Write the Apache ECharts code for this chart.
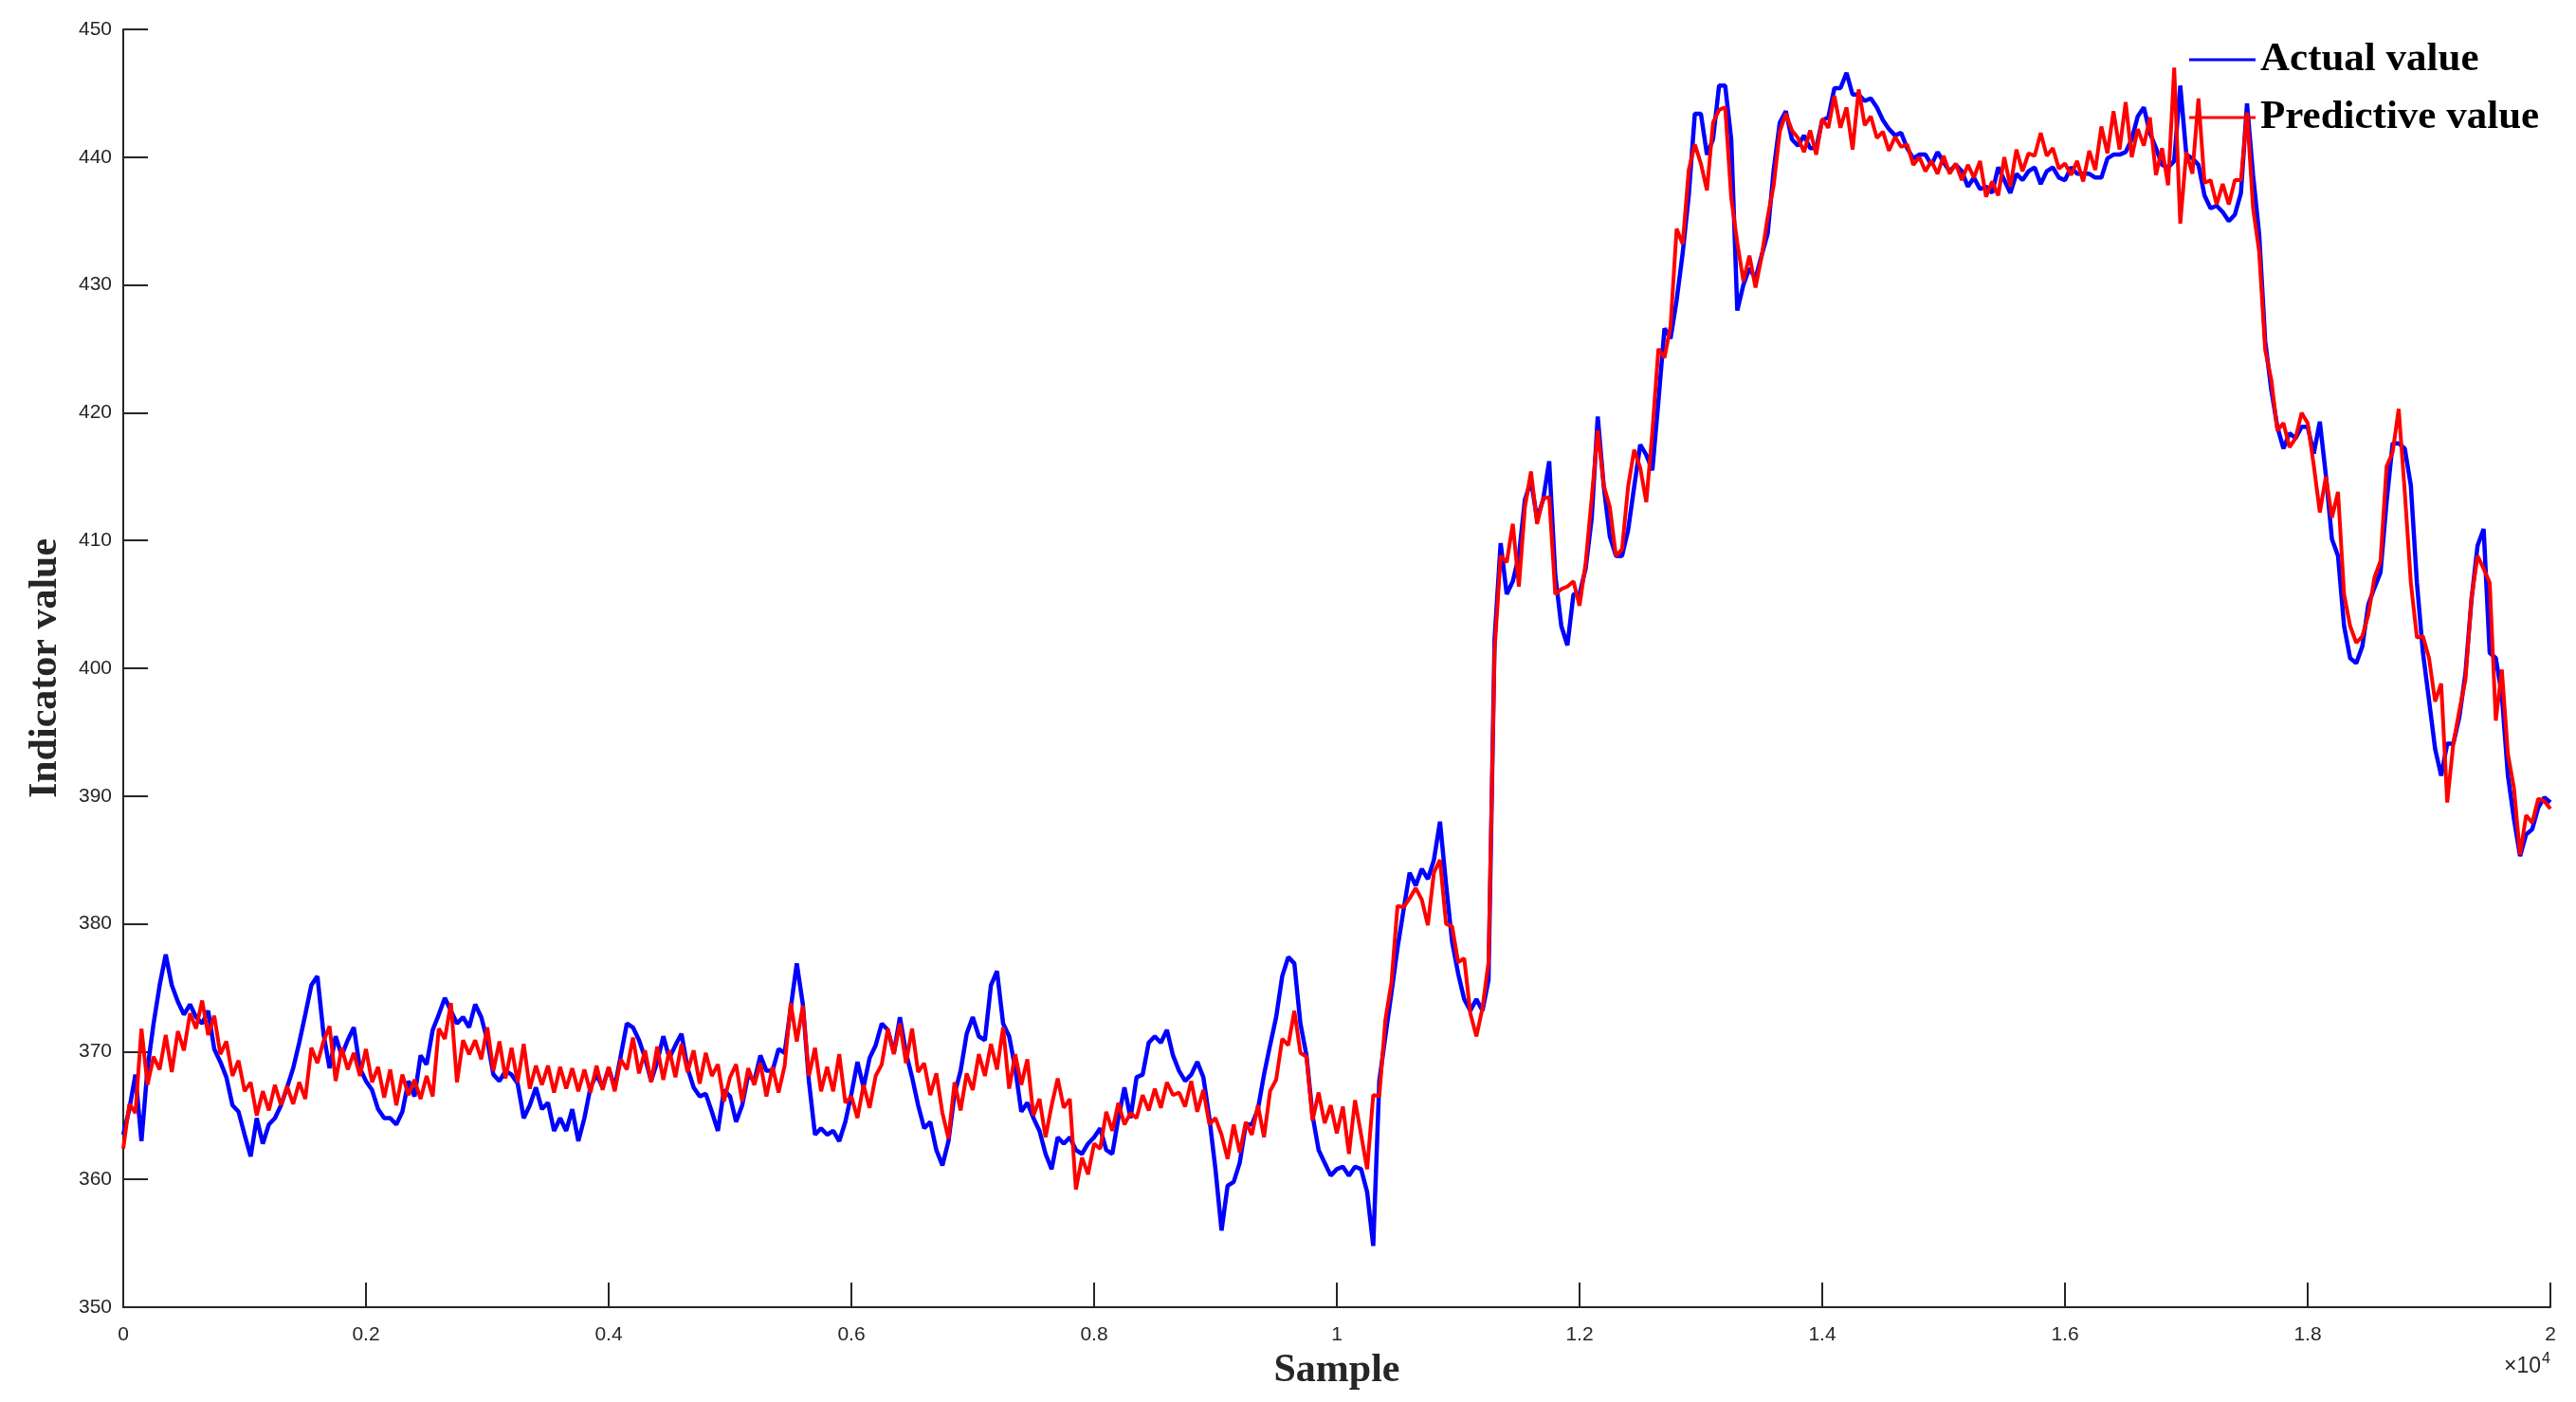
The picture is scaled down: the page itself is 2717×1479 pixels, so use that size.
<!DOCTYPE html>
<html>
<head>
<meta charset="utf-8">
<title>Actual vs predictive value</title>
<script src="https://cdn.jsdelivr.net/npm/echarts@6/dist/echarts.min.js"></script>
<style>
	html, body { margin: 0; padding: 0; background: #fff; }
	#chart { width: 2717px; height: 1479px; }
</style>
</head>
<body>
<div id="chart"></div>
<script>
// one reading every 50 samples, 0 .. 20000
const sampleStep = 50

const yTicks = [350, 360, 370, 380, 390, 400, 410, 420, 430, 440, 450]
const xTickLabels = ['0', '0.2', '0.4', '0.6', '0.8', '1', '1.2', '1.4', '1.6', '1.8', '2']

const actualValue = [
	363.5, 365.5, 368.2, 363.0, 368.7, 372.2, 375.2, 377.6, 375.2, 373.9, 372.9, 373.7, 372.7, 372.2, 373.2, 370.2, 369.2, 368.0, 365.8, 365.3, 363.5,
	361.8, 364.8, 362.8, 364.3, 364.8, 365.8, 367.2, 368.7, 370.7, 372.9, 375.2, 375.9, 371.4, 368.7, 371.2, 369.7, 370.9, 371.9, 368.7, 367.7,
	367.0, 365.5, 364.8, 364.8, 364.3, 365.3, 367.7, 366.5, 369.7, 369.0, 371.7, 372.9, 374.2, 373.2, 372.2, 372.7, 371.9, 373.7, 372.7, 370.9,
	368.2, 367.7, 368.5, 368.2, 367.5, 364.8, 365.8, 367.2, 365.5, 366.0, 363.8, 364.8, 363.8, 365.5, 363.0, 364.8, 367.2, 368.2, 367.2, 368.7,
	367.2, 369.7, 372.2, 371.9, 370.9, 369.5, 367.7, 369.2, 371.2, 369.5, 370.5, 371.4, 368.7, 367.2, 366.5, 366.7, 365.3, 363.8, 367.0, 366.5,
	364.5, 365.8, 368.2, 367.7, 369.7, 368.5, 368.5, 370.2, 369.9, 373.4, 376.9, 373.7, 367.7, 363.5, 364.0, 363.5, 363.8, 363.0, 364.5, 366.7,
	369.2, 367.2, 369.5, 370.5, 372.2, 371.7, 369.9, 372.7, 369.9, 368.0, 365.8, 364.0, 364.5, 362.3, 361.1, 363.0, 366.7, 368.5, 371.4, 372.7,
	371.2, 370.9, 375.2, 376.3, 372.2, 371.2, 368.7, 365.3, 366.0, 364.8, 363.8, 362.0, 360.8, 363.3, 362.8, 363.3, 362.3, 362.0, 362.8, 363.3,
	364.0, 362.3, 362.0, 364.8, 367.2, 364.8, 368.0, 368.2, 370.7, 371.2, 370.7, 371.7, 369.7, 368.5, 367.7, 368.2, 369.2, 368.0, 364.8, 360.8,
	356.0, 359.5, 359.8, 361.3, 364.3, 364.3, 365.5, 368.2, 370.5, 372.7, 375.9, 377.4, 376.9, 372.2, 369.7, 365.0, 362.3, 361.3, 360.3, 360.8,
	361.0, 360.3, 361.0, 360.8, 359.0, 354.8, 367.7, 371.2, 374.6, 378.1, 381.1, 384.0, 383.0, 384.3, 383.5, 385.0, 388.0, 383.1, 378.6, 376.1,
	374.1, 373.2, 374.1, 373.2, 375.6, 402.3, 409.8, 405.8, 406.8, 408.8, 413.2, 414.7, 411.7, 413.2, 416.2, 407.3, 403.3, 401.8, 405.8, 405.8,
	407.8, 411.7, 419.7, 414.2, 410.3, 408.8, 408.8, 410.8, 414.2, 417.5, 416.7, 415.5, 420.9, 426.6, 425.8, 428.8, 432.5, 437.0, 443.4, 443.4,
	440.2, 441.4, 445.6, 445.6, 441.4, 428.0, 430.0, 431.3, 430.5, 432.3, 434.0, 439.0, 442.7, 443.6, 441.4, 440.9, 441.7, 440.7, 440.7, 442.9,
	443.1, 445.4, 445.4, 446.6, 444.9, 444.9, 444.4, 444.6, 443.9, 442.9, 442.2, 441.7, 441.9, 440.7, 439.9, 440.2, 440.2, 439.4, 440.4, 439.6,
	438.9, 439.4, 438.9, 437.7, 438.4, 437.5, 437.7, 437.2, 439.2, 438.2, 437.2, 438.7, 438.2, 438.9, 439.2, 437.9, 438.9, 439.2, 438.4, 438.2,
	439.2, 438.7, 438.7, 438.7, 438.4, 438.4, 439.9, 440.2, 440.2, 440.4, 441.4, 443.2, 443.9, 441.9, 440.7, 439.4, 439.2, 439.7, 445.6, 440.2,
	439.9, 439.4, 437.0, 436.0, 436.2, 435.7, 435.0, 435.5, 437.2, 444.2, 438.6, 434.0, 425.6, 421.8, 418.9, 417.2, 418.4, 418.0, 418.9, 418.9,
	416.8, 419.3, 415.1, 410.1, 408.8, 403.3, 400.8, 400.4, 401.7, 405.0, 406.3, 407.5, 413.0, 417.6, 417.6, 417.2, 414.3, 406.7, 401.2, 397.5,
	393.7, 391.6, 394.1, 394.1, 396.2, 399.6, 405.4, 409.6, 410.9, 401.2, 400.8, 397.9, 391.6, 388.2, 385.3, 387.0, 387.4, 389.1, 389.9, 389.5
]

// the red trace is a dense noisy band; readings alternate between its upper and lower edge
const predictiveValue = [
	362.4, 365.9, 365.2, 371.8, 367.4, 369.6, 368.6, 371.3, 368.4, 371.6, 370.1, 373.0, 371.8, 374.0, 371.3, 372.8, 369.8, 370.8, 368.1, 369.3, 366.9,
	367.6, 365.0, 366.9, 365.4, 367.4, 365.8, 367.3, 365.9, 367.6, 366.3, 370.3, 369.1, 370.8, 372.0, 367.7, 370.3, 368.6, 369.9, 368.1, 370.2,
	367.6, 368.8, 366.4, 368.6, 365.8, 368.2, 366.6, 367.8, 366.3, 368.1, 366.5, 371.8, 371.0, 373.8, 367.6, 370.9, 369.8, 370.9, 369.4, 371.9,
	368.5, 370.8, 367.9, 370.3, 367.6, 370.6, 367.1, 368.9, 367.4, 368.9, 366.8, 368.8, 367.1, 368.7, 366.9, 368.6, 366.8, 368.9, 367.0, 368.8,
	366.9, 369.4, 368.6, 371.1, 368.3, 370.1, 367.6, 370.4, 367.8, 370.1, 368.0, 370.6, 368.4, 370.1, 367.5, 369.9, 368.1, 369.0, 366.1, 368.0,
	369.0, 366.1, 368.7, 367.4, 369.1, 366.5, 368.8, 366.8, 368.9, 373.8, 370.8, 373.6, 368.1, 370.3, 366.9, 368.8, 366.9, 369.8, 366.0, 366.5,
	364.8, 367.4, 365.6, 368.1, 369.0, 371.8, 369.8, 372.2, 369.1, 371.8, 368.4, 369.1, 366.6, 368.3, 365.2, 363.2, 367.6, 365.4, 368.3, 367.0,
	369.8, 368.1, 370.6, 368.6, 371.9, 367.1, 369.8, 367.4, 369.4, 365.0, 366.3, 363.3, 365.8, 367.9, 365.6, 366.3, 359.2, 361.7, 360.4, 362.8,
	362.4, 365.3, 363.8, 366.0, 364.3, 365.2, 364.8, 366.6, 365.4, 367.1, 365.6, 367.6, 366.6, 366.8, 365.7, 367.7, 365.3, 367.0, 364.3, 364.8,
	363.5, 361.6, 364.3, 362.1, 364.5, 363.5, 365.8, 363.3, 366.9, 367.8, 371.0, 370.5, 373.2, 369.9, 369.6, 364.6, 366.8, 364.4, 365.8, 363.6,
	365.7, 362.0, 366.2, 363.5, 360.8, 366.6, 366.5, 372.5, 375.4, 381.4, 381.3, 382.0, 382.8, 381.9, 379.9, 384.0, 385.0, 380.0, 379.8, 377.0,
	377.3, 373.0, 371.2, 373.4, 377.0, 401.4, 408.8, 408.3, 411.3, 406.4, 412.6, 415.4, 411.3, 413.3, 413.4, 405.8, 406.2, 406.4, 406.8, 404.9,
	408.2, 413.3, 418.6, 414.3, 412.6, 408.8, 409.3, 414.2, 417.1, 415.7, 413.0, 418.5, 425.0, 424.3, 426.8, 434.4, 433.2, 439.0, 441.0, 439.5,
	437.4, 442.7, 443.7, 443.9, 436.8, 433.3, 430.3, 432.3, 429.8, 432.2, 435.3, 437.8, 442.0, 443.4, 442.1, 441.5, 440.4, 442.1, 440.2, 443.0,
	442.3, 444.8, 442.3, 443.9, 440.6, 445.3, 442.5, 443.2, 441.5, 442.0, 440.5, 441.6, 440.8, 441.0, 439.4, 440.0, 438.9, 439.7, 438.7, 440.1,
	438.7, 439.5, 438.2, 439.4, 438.4, 439.7, 436.9, 438.1, 437.0, 440.0, 437.7, 440.6, 438.9, 440.3, 440.1, 441.9, 440.1, 440.7, 439.1, 439.5,
	438.6, 439.7, 438.1, 440.5, 439.0, 442.4, 440.3, 443.6, 440.6, 444.3, 440.0, 442.2, 440.9, 443.1, 438.6, 440.7, 437.8, 447.0, 434.8, 440.4,
	438.7, 444.6, 438.0, 438.2, 436.3, 437.9, 436.3, 438.2, 438.2, 443.5, 436.0, 432.6, 424.9, 422.6, 418.6, 419.2, 417.3, 418.0, 420.0, 419.2,
	415.9, 412.2, 415.0, 411.8, 413.8, 405.8, 403.3, 402.0, 402.5, 404.2, 407.1, 408.4, 415.8, 416.9, 420.3, 413.8, 406.7, 402.4, 402.5, 400.8,
	397.4, 398.8, 389.5, 394.1, 396.7, 399.1, 405.5, 408.8, 407.8, 406.7, 395.9, 399.9, 393.3, 390.6, 385.4, 388.5, 387.9, 389.8, 389.6, 389.0
]

const seriesNames = ['Actual value', 'Predictive value']
const seriesColors = ['#0000ff', '#ff0000']

function toPoints(values) {
	return values.map((v, i) => [i * sampleStep, v])
}

const axisColor = '#262626'
const tickFont = 'Liberation Sans, Arial, sans-serif'
const titleFont = 'Liberation Serif, Times New Roman, serif'

const chart = echarts.init(document.getElementById('chart'), null, { renderer: 'canvas' })

chart.setOption({
	animation: false,
	backgroundColor: '#ffffff',
	grid: {
		left: 130,
		right: 27,
		top: 31,
		bottom: 100,
	},
	legend: {
		data: seriesNames,
		orient: 'vertical',
		left: 2304,
		top: 36,
		itemWidth: 70,
		itemHeight: 3,
		itemGap: 17,
		icon: 'rect',
		textStyle: {
			fontFamily: titleFont,
			fontWeight: 'bold',
			fontSize: 43,
			lineHeight: 44,
			color: '#000',
		},
	},
	xAxis: {
		type: 'value',
		min: 0,
		max: 20000,
		interval: 2000,
		name: 'Sample',
		nameLocation: 'middle',
		nameGap: 46,
		nameTextStyle: {
			fontFamily: titleFont,
			fontWeight: 'bold',
			fontSize: 42,
			color: axisColor,
		},
		axisLine: { show: true, lineStyle: { color: axisColor, width: 2 } },
		axisTick: { show: true, inside: true, length: 26, lineStyle: { color: axisColor, width: 2 } },
		axisLabel: {
			margin: 19,
			fontFamily: tickFont,
			fontSize: 21,
			color: axisColor,
			formatter: function(v) {
				return xTickLabels[Math.round(v / 2000)]
			},
		},
		splitLine: { show: false },
	},
	yAxis: {
		type: 'value',
		min: yTicks[0],
		max: yTicks[yTicks.length - 1],
		interval: 10,
		name: 'Indicator value',
		nameLocation: 'middle',
		nameGap: 61,
		nameTextStyle: {
			fontFamily: titleFont,
			fontWeight: 'bold',
			fontSize: 42,
			color: axisColor,
		},
		axisLine: { show: true, lineStyle: { color: axisColor, width: 2 } },
		axisTick: { show: true, inside: true, length: 26, lineStyle: { color: axisColor, width: 2 } },
		axisLabel: {
			margin: 12,
			fontFamily: tickFont,
			fontSize: 21,
			color: axisColor,
		},
		splitLine: { show: false },
	},
	graphic: [
		{
			type: 'text',
			right: 37,
			top: 1430,
			style: {
				text: '×10',
				font: '23px ' + tickFont,
				fill: axisColor,
			},
		},
		{
			type: 'text',
			left: 2681,
			top: 1426,
			style: {
				text: '4',
				font: '16px ' + tickFont,
				fill: axisColor,
			},
		},
	],
	series: [
		{
			name: seriesNames[0],
			type: 'line',
			data: toPoints(actualValue),
			showSymbol: false,
			symbol: 'none',
			color: seriesColors[0],
			lineStyle: { color: seriesColors[0], width: 4.5 },
			z: 2,
		},
		{
			name: seriesNames[1],
			type: 'line',
			data: toPoints(predictiveValue),
			showSymbol: false,
			symbol: 'none',
			color: seriesColors[1],
			lineStyle: { color: seriesColors[1], width: 4 },
			z: 3,
		},
	],
})
</script>
</body>
</html>
